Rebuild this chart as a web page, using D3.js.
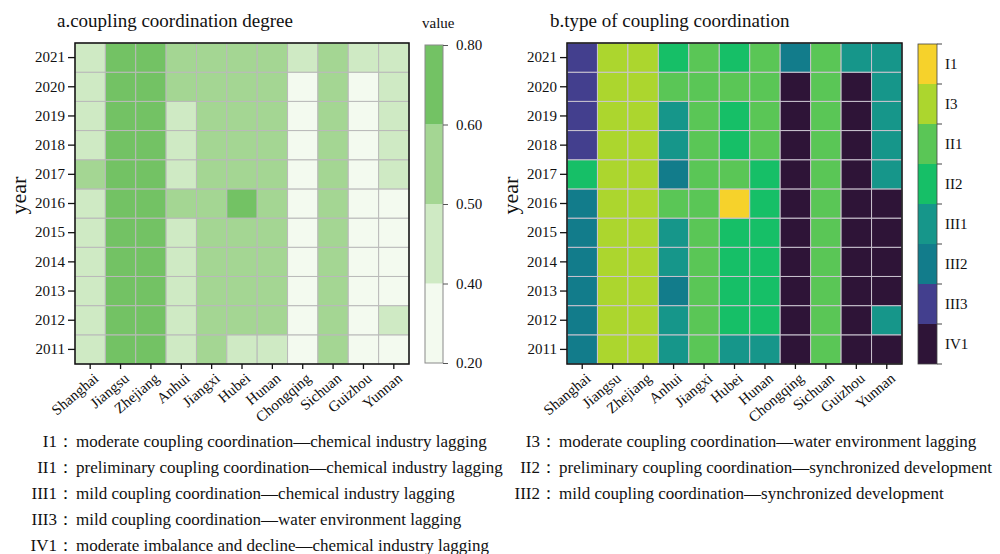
<!DOCTYPE html>
<html><head><meta charset="utf-8">
<script src="https://cdn.jsdelivr.net/npm/d3@7"></script>
<style>
body{margin:0;background:#fff;}
svg text{font-family:"Liberation Serif","DejaVu Serif",serif;fill:#111;}
</style></head><body>
<svg id="chart" width="1000" height="554"></svg>
<script>
// ---------- data ----------
const provinces = ["Shanghai","Jiangsu","Zhejiang","Anhui","Jiangxi","Hubei","Hunan","Chongqing","Sichuan","Guizhou","Yunnan"];
const years = [2011,2012,2013,2014,2015,2016,2017,2018,2019,2020,2021];

// coupling coordination degree, 2011 -> 2021 (estimated within the colour classes)
const degShanghai  = [0.46,0.47,0.46,0.47,0.47,0.48,0.51,0.48,0.47,0.46,0.45];
const degJiangsu   = [0.63,0.64,0.64,0.65,0.65,0.66,0.66,0.67,0.67,0.68,0.68];
const degZhejiang  = [0.62,0.63,0.63,0.64,0.64,0.65,0.65,0.66,0.66,0.67,0.67];
const degAnhui     = [0.44,0.45,0.45,0.46,0.47,0.51,0.48,0.48,0.49,0.52,0.53];
const degJiangxi   = [0.51,0.51,0.52,0.52,0.53,0.53,0.54,0.54,0.55,0.55,0.56];
const degHubei     = [0.48,0.52,0.53,0.54,0.55,0.61,0.55,0.56,0.57,0.55,0.58];
const degHunan     = [0.49,0.51,0.52,0.52,0.53,0.54,0.54,0.55,0.55,0.54,0.56];
const degChongqing = [0.33,0.34,0.35,0.35,0.36,0.36,0.37,0.37,0.38,0.38,0.41];
const degSichuan   = [0.52,0.52,0.53,0.53,0.54,0.54,0.55,0.55,0.56,0.56,0.57];
const degGuizhou   = [0.30,0.31,0.32,0.33,0.34,0.35,0.36,0.37,0.38,0.39,0.42];
const degYunnan    = [0.37,0.41,0.38,0.38,0.39,0.39,0.42,0.43,0.44,0.45,0.46];

const degreeBreaks = [0.2,0.4,0.5,0.6,0.8];
const degreeTickLabels = ["0.20","0.40","0.50","0.60","0.80"];
const degreeColors = ["#f3faef","#cfeac4","#a4d693","#73c264"];

// coupling coordination type, 2011 -> 2021
const typeLabels = ["I1","I3","II1","II2","III1","III2","III3","IV1"];
const typeColors = ["#f6d22b","#acd62e","#5ac656","#16bf67","#16968a","#127c8b","#433f8e","#2e1437"];
const typShanghai  = ["III2","III2","III2","III2","III2","III2","II2","III3","III3","III3","III3"];
const typJiangsu   = ["I3","I3","I3","I3","I3","I3","I3","I3","I3","I3","I3"];
const typZhejiang  = ["I3","I3","I3","I3","I3","I3","I3","I3","I3","I3","I3"];
const typAnhui     = ["III1","III1","III2","III1","III1","II1","III2","III1","III1","II1","II2"];
const typJiangxi   = ["II1","II1","II1","II1","II1","II1","II1","II1","II1","II1","II1"];
const typHubei     = ["III1","II2","II2","II2","II2","I1","II1","II2","II2","II1","II2"];
const typHunan     = ["III1","II2","II2","II2","II2","II2","II2","II1","II1","II1","II1"];
const typChongqing = ["IV1","IV1","IV1","IV1","IV1","IV1","IV1","IV1","IV1","IV1","III2"];
const typSichuan   = ["II1","II1","II1","II1","II1","II1","II1","II1","II1","II1","II1"];
const typGuizhou   = ["IV1","IV1","IV1","IV1","IV1","IV1","IV1","IV1","IV1","IV1","III1"];
const typYunnan    = ["IV1","III1","IV1","IV1","IV1","IV1","III1","III1","III1","III1","III1"];

const notesLeftCodes = ["I1","II1","III1","III3","IV1"];
const notesLeftTexts = [
  "moderate coupling coordination—chemical industry lagging",
  "preliminary coupling coordination—chemical industry lagging",
  "mild coupling coordination—chemical industry lagging",
  "mild coupling coordination—water environment lagging",
  "moderate imbalance and decline—chemical industry lagging"];
const notesRightCodes = ["I3","II2","III2"];
const notesRightTexts = [
  "moderate coupling coordination—water environment lagging",
  "preliminary coupling coordination—synchronized development",
  "mild coupling coordination—synchronized development"];

const degreeByProv = [degShanghai,degJiangsu,degZhejiang,degAnhui,degJiangxi,degHubei,degHunan,degChongqing,degSichuan,degGuizhou,degYunnan];
const typeByProv = [typShanghai,typJiangsu,typZhejiang,typAnhui,typJiangxi,typHubei,typHunan,typChongqing,typSichuan,typGuizhou,typYunnan];

// ---------- drawing ----------
const svg = d3.select("#chart");
const FS_TICK = 15;

function heat(opts){
  const {x0,x1,y0,y1,cells,fill,title,titleX,yearX} = opts;
  const g = svg.append("g");
  const x = d3.scaleBand().domain(provinces).range([x0,x1]);
  const y = d3.scaleBand().domain(years.slice().reverse()).range([y0,y1]);
  g.selectAll("rect.cell").data(cells).join("rect")
    .attr("class","cell")
    .attr("x",d=>x(d.p)).attr("y",d=>y(d.y))
    .attr("width",x.bandwidth()).attr("height",y.bandwidth())
    .attr("fill",d=>fill(d.v))
    .attr("stroke",opts.grid).attr("stroke-width",1);
  g.append("rect").attr("x",x0).attr("y",y0).attr("width",x1-x0).attr("height",y1-y0)
    .attr("fill","none").attr("stroke","#111").attr("stroke-width",1.5);
  const ya = g.append("g").attr("transform",`translate(${x0},0)`)
    .call(d3.axisLeft(y).tickSize(7).tickPadding(3).tickSizeOuter(0));
  ya.select(".domain").remove();
  ya.selectAll("line").attr("stroke","#111").attr("stroke-width",1.3);
  ya.selectAll("text").attr("font-size",FS_TICK).style("font-family",'"Liberation Serif",serif');
  const xa = g.append("g").attr("transform",`translate(0,${y1})`)
    .call(d3.axisBottom(x).tickSize(5).tickSizeOuter(0));
  xa.select(".domain").remove();
  xa.selectAll("line").attr("stroke","#111").attr("stroke-width",1.3);
  xa.selectAll("text").attr("font-size",FS_TICK).style("font-family",'"Liberation Serif",serif')
    .attr("x",0).attr("y",0).attr("dy","0.35em")
    .attr("text-anchor","end")
    .attr("transform","translate(6,12) rotate(-40)");
  g.append("text").attr("x",titleX).attr("y",27).attr("font-size",19).text(title);
  g.append("text").attr("transform",`translate(${yearX},${(y0+y1)/2-8}) rotate(-90)`)
    .attr("text-anchor","middle").attr("font-size",22).text("year");
  return g;
}

// panel a
const degreeColor = d3.scaleThreshold().domain(degreeBreaks.slice(1,-1)).range(degreeColors);
const cellsA = [];
provinces.forEach((p,i)=>years.forEach((yr,j)=>cellsA.push({p,y:yr,v:degreeByProv[i][j]})));
heat({x0:75,x1:409,y0:43,y1:364,cells:cellsA,fill:degreeColor,grid:"#b9b9b9",
  title:"a.coupling coordination degree",titleX:57,yearX:26});

// colourbar a
const cbA = svg.append("g");
const cbY = d3.scaleLinear().domain(degreeBreaks).range(d3.range(degreeBreaks.length).map(i=>363-i*(318/(degreeBreaks.length-1))));
cbA.selectAll("rect").data(degreeColors).join("rect")
  .attr("x",425).attr("width",18)
  .attr("y",(d,i)=>cbY(degreeBreaks[i+1]))
  .attr("height",(d,i)=>cbY(degreeBreaks[i])-cbY(degreeBreaks[i+1]))
  .attr("fill",d=>d);
cbA.append("rect").attr("x",425).attr("width",18).attr("y",cbY(0.8)).attr("height",cbY(0.2)-cbY(0.8))
  .attr("fill","none").attr("stroke","#8a8a8a").attr("stroke-width",1);
const cbAxis = cbA.append("g").attr("transform","translate(443,0)")
  .call(d3.axisRight(cbY).tickValues(degreeBreaks).tickFormat((d,i)=>degreeTickLabels[i]).tickSize(5).tickPadding(8));
cbAxis.select(".domain").remove();
cbAxis.selectAll("line").attr("stroke","#555");
cbAxis.selectAll("text").attr("font-size",15).style("font-family",'"Liberation Serif",serif');
svg.append("text").attr("x",422).attr("y",28).attr("font-size",15).text("value");

// panel b
const typeColor = d3.scaleOrdinal().domain(typeLabels).range(typeColors);
const cellsB = [];
provinces.forEach((p,i)=>years.forEach((yr,j)=>cellsB.push({p,y:yr,v:typeByProv[i][j]})));
heat({x0:567,x1:902,y0:43,y1:364,cells:cellsB,fill:typeColor,grid:"#c9c3cf",
  title:"b.type of coupling coordination",titleX:550,yearX:518});

// legend b
const lgY = d3.scaleBand().domain(typeLabels).range([44,364]);
const lg = svg.append("g");
lg.selectAll("rect").data(typeLabels).join("rect")
  .attr("x",918).attr("width",19).attr("y",d=>lgY(d)).attr("height",lgY.bandwidth())
  .attr("fill",d=>typeColor(d));
lg.append("rect").attr("x",918).attr("width",19).attr("y",44).attr("height",320)
  .attr("fill","none").attr("stroke","#444").attr("stroke-width",0.8);
lg.selectAll("line").data(d3.range(typeLabels.length+1)).join("line")
  .attr("x1",937).attr("x2",942)
  .attr("y1",i=>44+i*lgY.bandwidth()).attr("y2",i=>44+i*lgY.bandwidth())
  .attr("stroke","#444");
lg.selectAll("text").data(typeLabels).join("text")
  .attr("x",945).attr("y",d=>lgY(d)+lgY.bandwidth()/2).attr("dy","0.35em")
  .attr("font-size",15).text(d=>d);

// notes
const FS_NOTE = 17;
const notes = svg.append("g");
notesLeftCodes.forEach((c,i)=>{
  const yy = 447 + i*26;
  notes.append("text").attr("x",74).attr("y",yy).attr("text-anchor","end").attr("font-size",FS_NOTE).text(c+"：");
  notes.append("text").attr("x",76).attr("y",yy).attr("font-size",FS_NOTE).text(notesLeftTexts[i]);
});
notesRightCodes.forEach((c,i)=>{
  const yy = 447 + i*26;
  notes.append("text").attr("x",557).attr("y",yy).attr("text-anchor","end").attr("font-size",FS_NOTE).text(c+"：");
  notes.append("text").attr("x",559).attr("y",yy).attr("font-size",FS_NOTE).text(notesRightTexts[i]);
});
</script>
</body></html>
